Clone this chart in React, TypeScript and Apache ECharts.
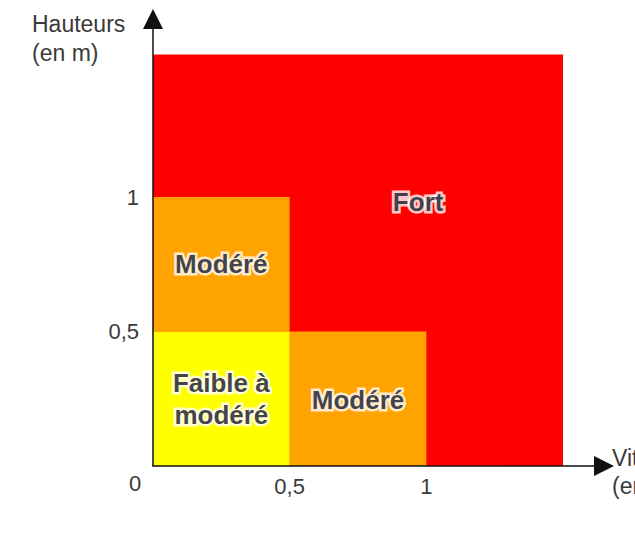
import React, { useEffect, useRef } from "react";
import * as echarts from "echarts";

// Zones (rectangles) in data units: [x0, y0] -> [x1, y1]
const zoneX0 = [0, 0, 0.5, 0];
const zoneY0 = [0, 0.5, 0, 0];
const zoneX1 = [1.5, 0.5, 1, 0.5];
const zoneY1 = [1.53, 1, 0.5, 0.5];
const zoneColors = ["#FF0000", "#FFA300", "#FFA300", "#FFFF00"];

// Zone labels
const labelTexts = ["Fort", "Modéré", "Modéré", "Faible à\nmodéré"];
const labelX = [0.97, 0.25, 0.75, 0.25];
const labelY = [0.98, 0.75, 0.245, 0.25];

// Tick labels shown
const xTicks = [0.5, 1];
const yTicks = [0.5, 1];

const fmt = (v: number) => String(v).replace(".", ",");
const FONT = '"Liberation Sans", Arial, sans-serif';

export default function App() {
  const ref = useRef<HTMLDivElement>(null);
  useEffect(() => {
    if (!ref.current) return;
    const chart = echarts.init(ref.current, undefined, { renderer: "svg" });
    const zoneData = zoneX0.map((x, i) => [x, zoneY0[i], zoneX1[i], zoneY1[i]]);
    const labelData = labelTexts.map((t, i) => [labelX[i], labelY[i], t]);
    const labelBase = {
      show: true,
      position: "inside",
      formatter: (p: any) => p.value[2],
      fontSize: 26,
      fontWeight: "bold",
      fontFamily: FONT,
      lineHeight: 32,
      align: "center",
    };
    chart.setOption({
      animation: false,
      backgroundColor: "#ffffff",
      grid: { left: 153, top: 19, right: 31, bottom: 80, containLabel: false },
      xAxis: {
        type: "value",
        min: 0,
        max: 1.65,
        interval: 0.5,
        z: 10,
        splitLine: { show: false },
        axisTick: { show: false },
        axisLine: {
          show: true,
          symbol: ["none", "triangle"],
          symbolSize: [20, 20],
          lineStyle: { color: "#111", width: 1.5 },
        },
        axisLabel: {
          formatter: (v: number) => (xTicks.includes(v) ? fmt(v) : ""),
          margin: 9,
          fontSize: 22,
          color: "#3a3a3a",
          fontFamily: FONT,
        },
      },
      yAxis: {
        type: "value",
        min: 0,
        max: 1.662,
        interval: 0.5,
        z: 10,
        splitLine: { show: false },
        axisTick: { show: false },
        axisLine: {
          show: true,
          symbol: ["none", "triangle"],
          symbolSize: [20, 20],
          lineStyle: { color: "#111", width: 1.5 },
        },
        axisLabel: {
          formatter: (v: number) => (yTicks.includes(v) ? fmt(v) : ""),
          margin: 14,
          fontSize: 22,
          color: "#3a3a3a",
          fontFamily: FONT,
        },
      },
      graphic: [
        {
          type: "text",
          x: 32,
          y: 9,
          style: {
            text: "Hauteurs\n(en m)",
            font: `23px ${FONT}`,
            fill: "#3a3a3a",
            lineHeight: 29,
            verticalAlign: "top",
          },
        },
        {
          type: "text",
          x: 612,
          y: 444,
          style: {
            text: "Vitesses\n(en m/s)",
            font: `23px ${FONT}`,
            fill: "#3a3a3a",
            lineHeight: 28,
            verticalAlign: "top",
          },
        },
        {
          type: "text",
          x: 135,
          y: 483,
          style: {
            text: "0",
            font: `22px ${FONT}`,
            fill: "#3a3a3a",
            align: "center",
            verticalAlign: "middle",
          },
        },
      ],
      series: [
        {
          type: "custom",
          silent: true,
          encode: { x: [0, 2], y: [1, 3] },
          data: zoneData,
          renderItem: (params: any, api: any) => {
            const p0 = api.coord([api.value(0), api.value(1)]);
            const p1 = api.coord([api.value(2), api.value(3)]);
            return {
              type: "rect",
              shape: {
                x: p0[0],
                y: p1[1],
                width: p1[0] - p0[0],
                height: p0[1] - p1[1],
              },
              style: { fill: zoneColors[params.dataIndex] },
            };
          },
        },
        {
          // white halo layer
          type: "scatter",
          silent: true,
          symbolSize: 1,
          itemStyle: { color: "transparent" },
          data: labelData,
          z: 5,
          label: {
            ...labelBase,
            color: "#ffffff",
            textBorderColor: "#ffffff",
            textBorderWidth: 5,
          },
        },
        {
          // dark text layer
          type: "scatter",
          silent: true,
          symbolSize: 1,
          itemStyle: { color: "transparent" },
          data: labelData,
          z: 6,
          label: {
            ...labelBase,
            color: "#10101c",
          },
        },
      ],
    });
    return () => chart.dispose();
  }, []);
  return (
    <div
      ref={ref}
      style={{ position: "fixed", left: 0, top: 0, width: 635, height: 546, background: "#fff" }}
    />
  );
}
